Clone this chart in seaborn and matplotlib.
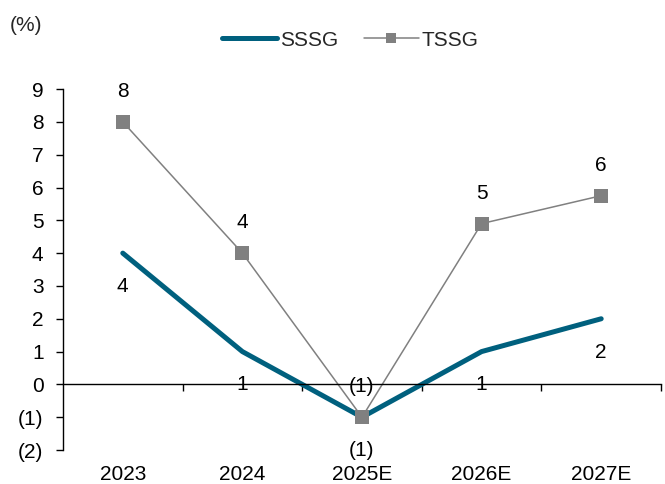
import matplotlib
matplotlib.use("Agg")
import matplotlib.pyplot as plt
import seaborn as sns
import pandas as pd

years = ["2023", "2024", "2025E", "2026E", "2027E"]
sssg = [4.0, 1.0, -1.0, 1.0, 2.0]
tssg = [8.0, 4.0, -1.0, 4.9, 5.75]
y_ticks = list(range(-2, 10))

sns.set_theme(style="white")
plt.rcParams["font.family"] = ["Liberation Sans", "DejaVu Sans"]
FS = 15

TEAL = "#00607E"
GREY = "#808080"


def fmt(v):
    r = int(round(v))
    return f"({abs(r)})" if r < 0 else f"{r}"


df = pd.DataFrame({"year": years, "SSSG": sssg, "TSSG": tssg})

fig = plt.figure(figsize=(6.65, 4.84), dpi=100)
ax = fig.add_axes([0.0947, 0.0702, 0.8993, 0.7458])

sns.lineplot(data=df, x="year", y="SSSG", ax=ax, color=TEAL, linewidth=3.6,
             sort=False, label="SSSG", solid_capstyle="round")
sns.lineplot(data=df, x="year", y="TSSG", ax=ax, color=GREY, linewidth=1.1,
             marker="s", markersize=10.5, markeredgewidth=0, sort=False,
             label="TSSG")

ax.set_xlim(-0.5, 4.5)
ax.set_ylim(-2, 9)
ax.set_xlabel("")
ax.set_ylabel("")

# y axis
ax.set_yticks(y_ticks)
ax.set_yticklabels([fmt(v) for v in y_ticks], fontsize=FS, color="black")
ax.tick_params(axis="y", left=True, length=5, width=1, pad=9, color="black")
ax.spines["left"].set_color("black")
ax.spines["left"].set_linewidth(1)
for s in ["top", "right"]:
    ax.spines[s].set_visible(False)

# x axis line sits at zero, with ticks between categories
ax.spines["bottom"].set_position(("data", 0))
ax.spines["bottom"].set_color("black")
ax.spines["bottom"].set_linewidth(1)
ax.set_xticks([0.5, 1.5, 2.5, 3.5, 4.5])
ax.set_xticklabels([])
ax.tick_params(axis="x", bottom=True, length=5, width=1, color="black",
               direction="out")

# category labels along the bottom edge
sec = ax.secondary_xaxis("bottom")
sec.set_xticks(range(len(years)))
sec.set_xticklabels(years, fontsize=FS, color="black")
sec.tick_params(axis="x", length=0, pad=11)
sec.spines["bottom"].set_visible(False)

# value labels
for i, v in enumerate(tssg):
    ax.annotate(fmt(v), (i, v), xytext=(0, 22), textcoords="offset points",
                ha="center", va="center", fontsize=FS, color="black")
for i, v in enumerate(sssg):
    ax.annotate(fmt(v), (i, v), xytext=(0, -24), textcoords="offset points",
                ha="center", va="center", fontsize=FS, color="black")

leg = ax.legend(loc="center", bbox_to_anchor=(0.527, 0.917),
                bbox_transform=fig.transFigure, ncol=2, frameon=False,
                fontsize=FS, handlelength=2.65, handletextpad=0.15,
                columnspacing=1.2, markerscale=0.7)

fig.text(0.015, 0.948, "(%)", fontsize=FS, ha="left", va="center")

fig.savefig("out.png", dpi=100)
